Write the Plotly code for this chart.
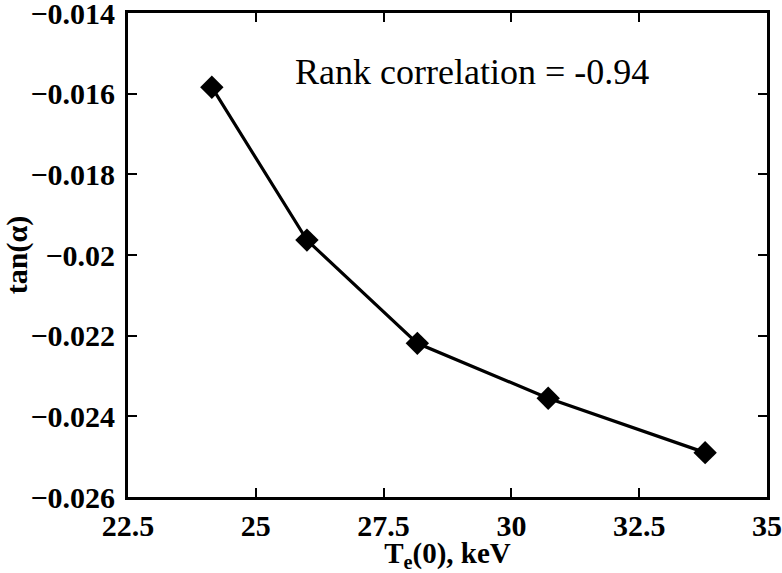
import plotly.graph_objects as go

te = [24.14, 26.0, 28.16, 30.72, 33.79]
tan_alpha = [-0.01584, -0.01963, -0.02219, -0.02355, -0.0249]

yticks = [-0.014, -0.016, -0.018, -0.02, -0.022, -0.024, -0.026]
yticklabels = ["\u22120.014", "\u22120.016", "\u22120.018", "\u22120.02", "\u22120.022", "\u22120.024", "\u22120.026"]
xticks = [22.5, 25, 27.5, 30, 32.5, 35]
xticklabels = ["22.5", "25", "27.5", "30", "32.5", "35"]

serif = "Times New Roman, Liberation Serif, DejaVu Serif, serif"

fig = go.Figure()
fig.add_trace(go.Scatter(
    x=te, y=tan_alpha, mode="lines+markers",
    line=dict(color="black", width=3.2),
    marker=dict(symbol="diamond", size=18, color="black"),
    showlegend=False,
))

axis_common = dict(
    showline=True, linecolor="black", linewidth=3, mirror="ticks",
    ticks="inside", ticklen=9, tickwidth=2, tickcolor="black",
    showgrid=False, zeroline=False, ticklabeloverflow="allow",
    automargin=False,
    tickfont=dict(family=serif, size=30, color="black", weight="bold"),
)

fig.update_xaxes(range=[22.5, 35], tickvals=xticks, ticktext=xticklabels,
                 ticklabelstandoff=0,
                 title=dict(text="T<sub>e</sub>(0), keV",
                            font=dict(family=serif, size=29, color="black", weight="bold")),
                 **axis_common)
fig.update_yaxes(range=[-0.026, -0.014], tickvals=yticks, ticktext=yticklabels,
                 ticklabelstandoff=4,
                 title=dict(text="tan(\u03b1)",
                            font=dict(family=serif, size=30, color="black", weight="bold")),
                 **axis_common)

fig.add_annotation(x=0.539, y=0.878, xref="paper", yref="paper",
                   xanchor="center", yanchor="middle",
                   text="Rank correlation = -0.94", showarrow=False,
                   font=dict(family=serif, size=36, color="black"))

fig.update_layout(
    width=782, height=573,
    margin=dict(l=128, r=15, t=13, b=76),
    paper_bgcolor="white", plot_bgcolor="white",
    font=dict(family=serif),
)

fig.write_html("out.html")
